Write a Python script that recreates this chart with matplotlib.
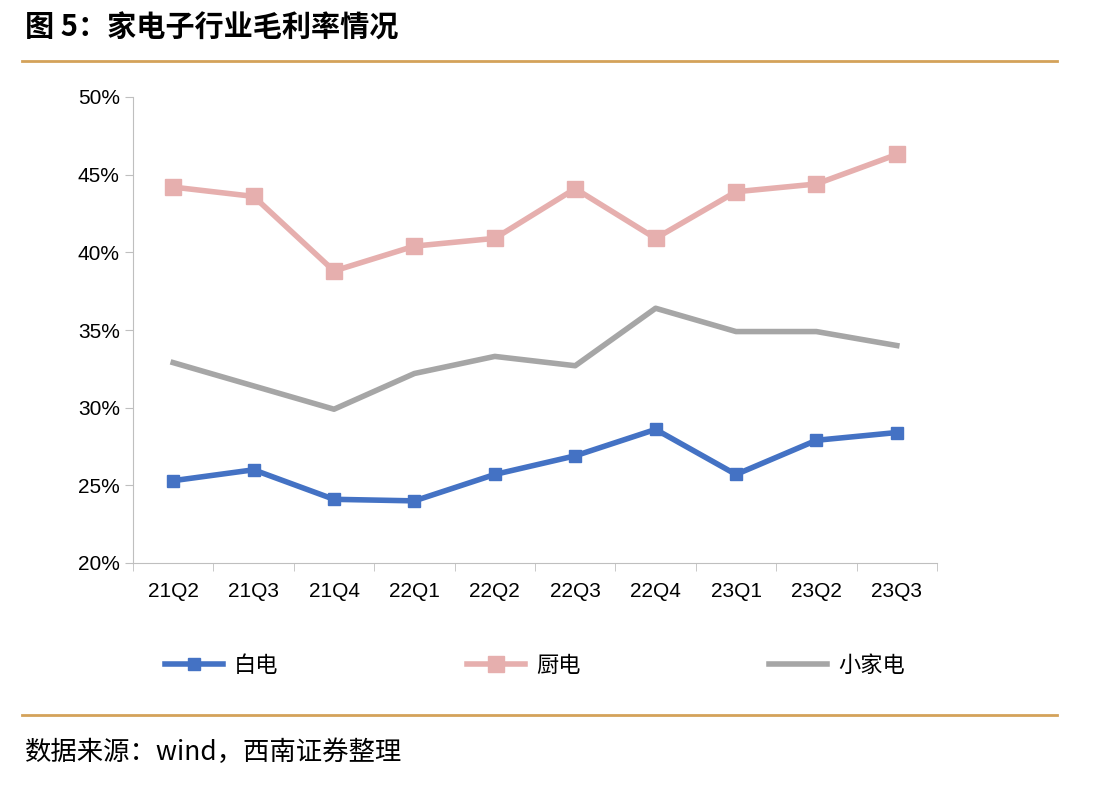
import matplotlib
matplotlib.use("Agg")
import matplotlib.pyplot as plt
from matplotlib.lines import Line2D

categories = ["21Q2","21Q3","21Q4","22Q1","22Q2","22Q3","22Q4","23Q1","23Q2","23Q3"]
baidian = [25.3, 26.0, 24.1, 24.0, 25.7, 26.9, 28.6, 25.7, 27.9, 28.4]
chudian = [44.2, 43.6, 38.8, 40.4, 40.9, 44.1, 40.9, 43.9, 44.4, 46.3]
xiaojiadian = [32.9, 31.4, 29.9, 32.2, 33.3, 32.7, 36.4, 34.9, 34.9, 34.0]
yticks = [20, 25, 30, 35, 40, 45, 50]

cjk = "Noto Sans CJK SC"
lat = "Liberation Sans"
W, H = 1112, 787
fig = plt.figure(figsize=(W/100, H/100), dpi=100)
ax = fig.add_axes([133/W, 1-563/H, (937-133)/W, (563-97)/H])
x = list(range(len(categories)))
ax.plot(x, chudian, color="#E6AFAE", lw=4, marker="s", ms=12, label="厨电")
ax.plot(x, xiaojiadian, color="#A6A6A6", lw=4, label="小家电")
ax.plot(x, baidian, color="#4472C4", lw=4, marker="s", ms=8, label="白电")
ax.set_xlim(-0.5, 9.5)
ax.set_ylim(20, 50)
ax.set_yticks(yticks)
ax.set_yticklabels([f"{v}%" for v in yticks], fontfamily=lat, fontsize=15)
ax.set_xticks(x)
ax.set_xticklabels(categories, fontfamily=lat, fontsize=15)
ax.set_xticks([i-0.5 for i in range(11)], minor=True)
ax.tick_params(axis="x", which="major", length=0, pad=14)
ax.tick_params(axis="x", which="minor", length=6, color="#BFBFBF", direction="out")
ax.tick_params(axis="y", length=6, color="#BFBFBF", direction="out")
for s in ["top", "right"]:
    ax.spines[s].set_visible(False)
for s in ["left", "bottom"]:
    ax.spines[s].set_color("#BFBFBF")

handles = [Line2D([], [], color="#4472C4", lw=4, marker="s", ms=8),
           Line2D([], [], color="#E6AFAE", lw=4, marker="s", ms=12),
           Line2D([], [], color="#A6A6A6", lw=4)]
fig.legend(handles, ["白电", "厨电", "小家电"], loc="center", bbox_to_anchor=(535/W, 1-665/H),
           ncol=3, frameon=False, prop={"family": cjk, "size": 16}, columnspacing=8.5,
           handlelength=2.6, handletextpad=0.5)

fig.text(25/W, 1-28/H, "图 5：家电子行业毛利率情况", fontfamily=cjk, fontsize=21, fontweight="bold", va="center")
fig.add_artist(Line2D([22/W, 1057/W], [1-61/H, 1-61/H], color="#D4A25A", lw=2))
fig.add_artist(Line2D([22/W, 1057/W], [1-715/H, 1-715/H], color="#D4A25A", lw=2))
fig.text(25/W, 1-752/H, "数据来源：wind，西南证券整理", fontfamily=cjk, fontsize=19, style="italic", va="center")
fig.savefig("out.png", dpi=100)
